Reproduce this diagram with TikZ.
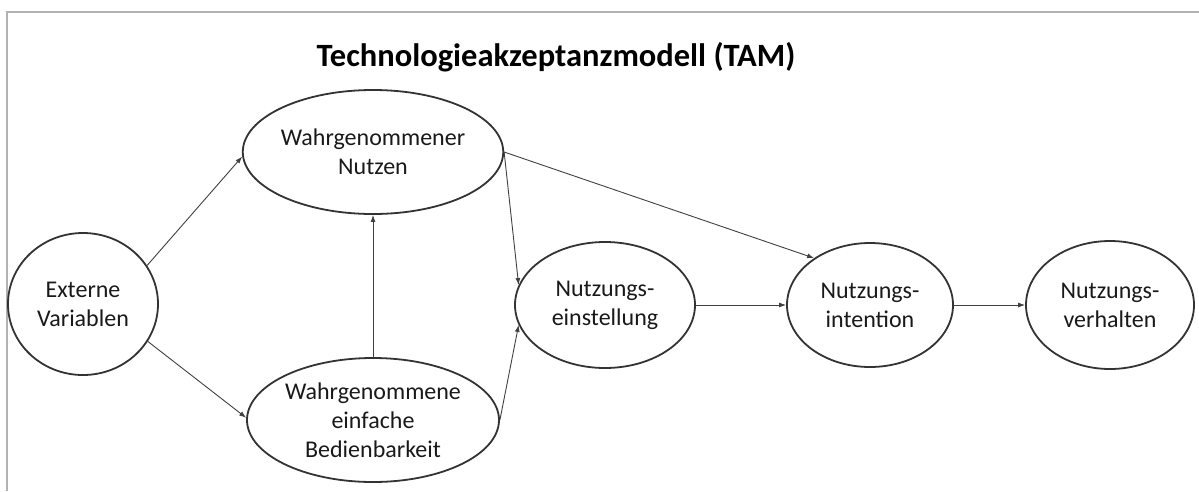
\documentclass[tikz,border=0pt]{standalone}
\usepackage{fontspec}
\setmainfont{Carlito}
\usetikzlibrary{shapes.geometric,arrows.meta}

\begin{document}
\begin{tikzpicture}[x=1pt, y=-1pt,
  konstrukt/.style = {shape=ellipse, draw=black!80, line width=1.8pt,
    align=center, inner sep=0pt, text=black!90,
    font=\fontsize{24}{29}\selectfont},
  pfeil/.style = {draw=black!75, line width=0.9pt,
    -{Latex[length=7pt,width=5pt]}}]
  \useasboundingbox (0,0) rectangle (1199,491);
  \draw[black!30, line width=1.5pt] (7,491) -- (7,12) -- (1199,12);
  \node[font=\bfseries\fontsize{32.5}{38}\selectfont] (titel) at (556,57)
    {Technologieakzeptanzmodell (TAM)};
  % Konstrukte
  \node[konstrukt, minimum width=150pt, minimum height=142pt] (ext) at (83,304) {Externe\\Variablen};
  \node[konstrukt, minimum width=251pt, minimum height=124pt] (wn) at (373,152) {Wahrgenommener\\Nutzen};
  \node[konstrukt, minimum width=252pt, minimum height=124pt] (web) at (373,420) {Wahrgenommene\\einfache\\Bedienbarkeit};
  \node[konstrukt, minimum width=180pt, minimum height=126pt] (ne) at (605,305) {Nutzungs-\\einstellung};
  \node[konstrukt, minimum width=166pt, minimum height=124pt] (ni) at (870,305) {Nutzungs-\\intention};
  \node[konstrukt, minimum width=168pt, minimum height=128pt] (nv) at (1110,305) {Nutzungs-\\verhalten};
  % Pfeile
  \draw[pfeil] (ext.31) -- (wn.182);
  \draw[pfeil] (ext.-30) -- (web.179);
  \draw[pfeil] (web.north) -- (wn.south);
  \draw[pfeil] (wn.east) -- (ne.167);
  \draw[pfeil] (wn.east) -- (ni.140);
  \draw[pfeil] (web.east) -- (ne.193);
  \draw[pfeil] (ne) -- (ni);
  \draw[pfeil] (ni) -- (nv);
\end{tikzpicture}
\end{document}
